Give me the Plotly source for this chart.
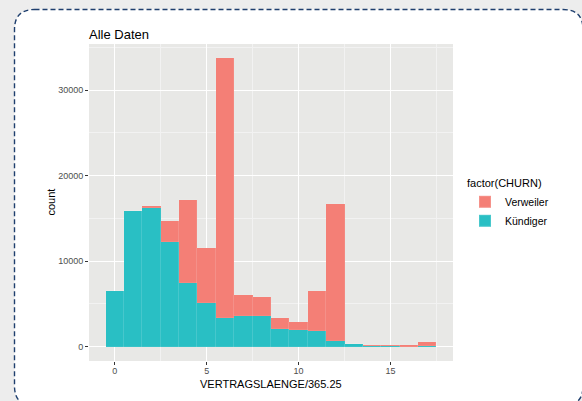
import plotly.graph_objects as go

# ---- data ----
bins = list(range(0, 18))  # bin centres of VERTRAGSLAENGE/365.25
kuendiger = [6500, 15850, 16250, 12200, 7480, 5070, 3310, 3620, 3590, 2070,
             1910, 1830, 620, 250, 120, 120, 10, 20]
verweiler = [30, 60, 160, 2460, 9630, 6470, 30410, 2380, 2220, 1280,
             980, 4640, 16060, 60, 40, 40, 120, 480]
x_ticks = [0, 5, 10, 15]
y_ticks = [0, 10000, 20000, 30000]

RED = "#F47F76"
TEAL = "#29BFC4"
FONT = "Arial, Liberation Sans, sans-serif"

W, H = 582, 401
L, R, T, B = 89, 129, 44, 40
PW, PH = W - L - R, H - T - B


def px(xp):
    return (xp - L) / PW


def py(yp):
    return (H - B - yp) / PH


def card_path(x0, y0, x1, y1, r):
    pts = []
    pts.append(f"M{px(x0 + r)},{py(y0)}")
    pts.append(f"L{px(x1 - r)},{py(y0)}")
    pts.append(f"Q{px(x1)},{py(y0)} {px(x1)},{py(y0 + r)}")
    pts.append(f"L{px(x1)},{py(y1 - r)}")
    pts.append(f"Q{px(x1)},{py(y1)} {px(x1 - r)},{py(y1)}")
    pts.append(f"L{px(x0 + r)},{py(y1)}")
    pts.append(f"Q{px(x0)},{py(y1)} {px(x0)},{py(y1 - r)}")
    pts.append(f"L{px(x0)},{py(y0 + r)}")
    pts.append(f"Q{px(x0)},{py(y0)} {px(x0 + r)},{py(y0)}")
    pts.append("Z")
    return " ".join(pts)


outline = dict(color="rgba(255,255,255,0.15)", width=0.5)

fig = go.Figure()
fig.add_trace(go.Bar(x=bins, y=kuendiger, name="Kündiger", width=1,
                     marker=dict(color=TEAL, line=outline)))
fig.add_trace(go.Bar(x=bins, y=verweiler, name="Verweiler", width=1,
                     marker=dict(color=RED, line=outline)))

totals = [a + b for a, b in zip(kuendiger, verweiler)]
tmax = max(totals)

fig.update_layout(
    width=W, height=H,
    margin=dict(l=L, r=R, t=T, b=B, autoexpand=False),
    paper_bgcolor="#EDEDED",
    plot_bgcolor="#E8E8E6",
    barmode="stack", bargap=0,
    font=dict(family=FONT, color="#000000", size=11),
    title=dict(text="Alle Daten", xref="paper", x=0, xanchor="left",
               yref="container", y=1 - 34 / H, yanchor="middle",
               font=dict(size=13, color="#000000")),
    showlegend=True,
    legend=dict(x=px(465), y=py(173), xanchor="left", yanchor="top",
                traceorder="reversed", bgcolor="rgba(0,0,0,0)",
                title=dict(text="factor(CHURN)", font=dict(size=11)),
                font=dict(size=10.5), itemsizing="constant",
                tracegroupgap=0),
    xaxis=dict(range=[-0.5 - 0.05 * 18, 17.5 + 0.05 * 18],
               tickvals=x_ticks, ticktext=[str(v) for v in x_ticks],
               showgrid=True, gridcolor="#FFFFFF", gridwidth=1,
               minor=dict(dtick=2.5, tick0=0, showgrid=True,
                          gridcolor="#F2F2F2", gridwidth=0.6),
               zeroline=False, showline=False,
               ticks="outside", ticklen=3, tickcolor="#333333", tickwidth=0.6,
               ticklabelstandoff=-2,
               tickfont=dict(size=9, color="#4D4D4D")),
    yaxis=dict(range=[-0.05 * tmax, 1.05 * tmax],
               tickvals=y_ticks, ticktext=[str(v) for v in y_ticks],
               showgrid=True, gridcolor="#FFFFFF", gridwidth=1,
               minor=dict(dtick=5000, tick0=0, showgrid=True,
                          gridcolor="#F2F2F2", gridwidth=0.6),
               zeroline=False, showline=False,
               ticks="outside", ticklen=3, tickcolor="#333333", tickwidth=0.6,
               tickfont=dict(size=9, color="#4D4D4D")),
    annotations=[
        dict(text="VERTRAGSLAENGE/365.25", xref="paper", yref="paper",
             x=0.5, y=py(384), xanchor="center", yanchor="middle",
             showarrow=False, font=dict(size=11, color="#000000")),
        dict(text="count", xref="paper", yref="paper", textangle=-90,
             x=px(50), y=0.5, xanchor="center", yanchor="middle",
             showarrow=False, font=dict(size=11, color="#000000")),
    ],
    shapes=[
        dict(type="path", xref="paper", yref="paper", layer="below",
             path=card_path(14.5, 9.5, 583, 406, 20),
             fillcolor="#FFFFFF",
             line=dict(color="#1F3F6E", width=1.4, dash="5px,3px")),
        dict(type="rect", xref="paper", yref="paper", layer="below",
             x0=0, x1=1, y0=0, y1=1, fillcolor="#E8E8E6",
             line=dict(width=0)),
    ],
)

fig.write_html("out.html",
               config={"displayModeBar": False},
               post_script="document.body.style.margin='0';"
                           "document.body.style.overflow='hidden';")
